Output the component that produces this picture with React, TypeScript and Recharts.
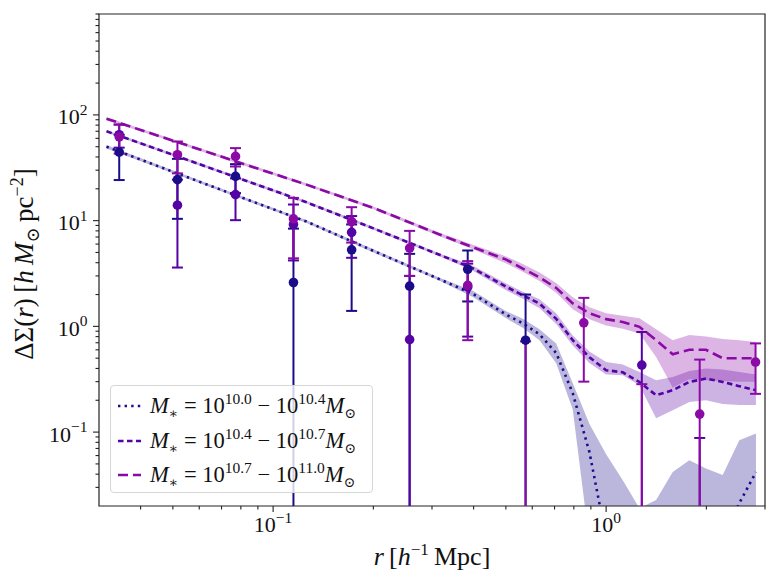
import React from 'react';
import { ComposedChart, XAxis, YAxis, Line, Area, Scatter, ErrorBar, ReferenceArea } from 'recharts';

// ---------- data ----------
const binR = [0.0345, 0.0516, 0.0771, 0.1151, 0.1721, 0.257, 0.384, 0.573, 0.857, 1.28, 1.91, 2.81];

const obs1: (number | null)[] = [44.5, 24.4, 26.2, 2.6, 5.3, 2.4, 3.47, 0.74, null, null, null, null];
const err1: (number | null)[] = [20.3, 14, 8, 5.8, 3.9, 2.45, 1.75, 1.26, null, null, null, null];
const obs2: (number | null)[] = [65, 14, 17.6, 9.2, 7.75, 0.75, 2.36, null, null, 0.43, -0.1, null];
const err2: (number | null)[] = [16, 10.4, 7.5, 5, 3.3, 2.25, 1.56, null, null, 0.455, 0.188, null];
const obs3: (number | null)[] = [62, 42, 40.5, 10.4, 9.8, 5.5, 2.44, -0.3, 1.08, -0.2, 0.148, 0.46];
const err3: (number | null)[] = [19, 14, 8, 6, 3.6, 2.5, 1.7, 1.02, 0.78, 0.484, 0.337, 0.23];

const modelR = [0.0316, 0.0501, 0.0794, 0.126, 0.2, 0.316, 0.398, 0.501, 0.562, 0.631, 0.708, 0.794, 0.891, 1.0, 1.122, 1.259, 1.413, 1.585, 1.778, 1.995, 2.239, 2.512, 2.818];

const mod1 = [50, 28.9, 16.8, 9.8, 5.18, 2.79, 2.03, 1.29, 1.07, 0.84, 0.56, 0.233, 0.0646, 0.01, 0.006, 0.004, 0.004, 0.004, 0.005, 0.006, 0.01, 0.0213, 0.0418];
const lo1 = [48.2, 28, 16.3, 9.5, 5.0, 2.7, 1.9, 1.19, 0.97, 0.74, 0.448, 0.164, 0.009, 0.003, 0.003, 0.003, 0.003, 0.003, 0.003, 0.003, 0.003, 0.003, 0.003];
const hi1 = [51.8, 29.8, 17.3, 10.1, 5.35, 2.88, 2.17, 1.39, 1.18, 0.94, 0.69, 0.29, 0.119, 0.0618, 0.0351, 0.019, 0.0228, 0.042, 0.0542, 0.0453, 0.0392, 0.0838, 0.097];

const mod2 = [70, 41.9, 25, 14.9, 8.45, 4.75, 3.54, 2.37, 1.97, 1.64, 1.18, 0.74, 0.51, 0.385, 0.368, 0.298, 0.223, 0.249, 0.298, 0.321, 0.298, 0.272, 0.249];
const lo2 = [68, 40.7, 24.3, 14.5, 8.2, 4.6, 3.36, 2.19, 1.82, 1.48, 1.05, 0.66, 0.45, 0.35, 0.345, 0.277, 0.135, 0.161, 0.193, 0.2, 0.184, 0.18, 0.18];
const hi2 = [72, 43.1, 25.7, 15.3, 8.7, 4.9, 3.74, 2.54, 2.12, 1.8, 1.33, 0.82, 0.58, 0.46, 0.435, 0.37, 0.31, 0.332, 0.379, 0.40, 0.39, 0.37, 0.35];

const mod3 = [92, 57, 35.3, 21.9, 13.2, 7.4, 5.6, 4.28, 3.52, 2.91, 2.31, 1.65, 1.33, 1.17, 1.10, 0.99, 0.74, 0.545, 0.60, 0.60, 0.50, 0.50, 0.50];
const lo3 = [89, 55.3, 34.2, 21.2, 12.8, 7.1, 5.36, 3.94, 3.28, 2.68, 2.08, 1.45, 1.17, 1.02, 0.95, 0.855, 0.514, 0.264, 0.316, 0.31, 0.305, 0.30, 0.30];
const hi3 = [95, 58.7, 36.4, 22.6, 13.6, 7.7, 5.9, 4.58, 3.88, 3.24, 2.57, 1.88, 1.52, 1.33, 1.26, 1.19, 0.94, 0.74, 0.83, 0.80, 0.76, 0.74, 0.71];

const xTicks = [0.04, 0.05, 0.06, 0.07, 0.08, 0.09, 0.1, 0.2, 0.3, 0.4, 0.5, 0.6, 0.7, 0.8, 0.9, 1, 2, 3];
const yTicks = [0.03, 0.04, 0.05, 0.06, 0.07, 0.08, 0.09, 0.1, 0.2, 0.3, 0.4, 0.5, 0.6, 0.7, 0.8, 0.9, 1, 2, 3, 4, 5, 6, 7, 8, 9, 10, 20, 30, 40, 50, 60, 70, 80, 90, 100, 200, 300, 400, 500, 600, 700, 800, 900];

const legendLabels = [
  ['10.0', '10.4'],
  ['10.4', '10.7'],
  ['10.7', '11.0'],
];

// ---------- style ----------
const C1 = '#1b0c8a';
const C2 = '#5503a4';
const C3 = '#8b0aa5';
const DASH1 = '2.4 4.2';
const DASH2 = '5.5 3.5';
const DASH3 = '10 5';
const FONT = '"Liberation Serif", "DejaVu Serif", serif';
const FLOOR = 1e-4;

function buildModel(r: number[], v: number[], lo: number[], hi: number[]) {
  return r.map((x, i) => ({ x, v: v[i], band: [lo[i], hi[i]] }));
}

function buildPoints(vals: (number | null)[], errs: (number | null)[]) {
  const pts: any[] = [];
  const caps: any[] = [];
  vals.forEach((v, i) => {
    const e = errs[i];
    if (v === null || e === null) return;
    if (v > 0) {
      pts.push({ x: binR[i], y: v, e: [Math.min(e, v - FLOOR), e] });
    } else {
      const up = v + e;
      caps.push({ x: binR[i], y: up, e: [up - FLOOR, 0] });
    }
  });
  return { pts, caps };
}

const m1 = buildModel(modelR, mod1, lo1, hi1);
const m2 = buildModel(modelR, mod2, lo2, hi2);
const m3 = buildModel(modelR, mod3, lo3, hi3);
const p1 = buildPoints(obs1, err1);
const p2 = buildPoints(obs2, err2);
const p3 = buildPoints(obs3, err3);

const isMajor = (v: number) => Math.abs(Math.log10(v) - Math.round(Math.log10(v))) < 1e-6;
const expLabel = (v: number) => {
  const e = Math.round(Math.log10(v));
  return e < 0 ? '\u2212' + -e : String(e);
};

const XTick = (props: any) => {
  const { x, y, payload } = props;
  const v = payload.value;
  const major = isMajor(v);
  return (
    <g>
      <line x1={x} x2={x} y1={y} y2={y + (major ? 6 : 3.5)} stroke="#222" strokeWidth={1.1} />
      {major && (
        <text x={x} y={y + 26} textAnchor="middle" fontFamily={FONT} fontSize={22} fill="#111">
          10<tspan dy={-9} fontSize={15.5}>{expLabel(v)}</tspan>
        </text>
      )}
    </g>
  );
};

const YTick = (props: any) => {
  const { x, y, payload } = props;
  const v = payload.value;
  const major = isMajor(v);
  return (
    <g>
      <line x1={x} x2={x - (major ? 6 : 3.5)} y1={y} y2={y} stroke="#222" strokeWidth={1.1} />
      {major && (
        <text x={x - 11.5} y={y + 9.5} textAnchor="end" fontFamily={FONT} fontSize={22} fill="#111">
          10<tspan dy={-9.5} fontSize={15.5}>{expLabel(v)}</tspan>
        </text>
      )}
    </g>
  );
};

const Dot = (color: string) => (p: any) =>
  Number.isFinite(p.cx) && Number.isFinite(p.cy) ? <circle cx={p.cx} cy={p.cy} r={4.8} fill={color} /> : <g />;
const NoDot = () => <g />;

const errKey = (d: any) => d.e;
const bandKey = (d: any) => d.band;

const LegendRow = ({ color, dash, lo, hi }: any) => (
  <div style={{ display: 'flex', alignItems: 'center', height: 34.5 }}>
    <svg width={26} height={10} style={{ marginLeft: 7, marginRight: 6, flex: 'none' }}>
      <line x1={0} x2={23} y1={5} y2={5} stroke={color} strokeWidth={2.6} strokeDasharray={dash} />
    </svg>
    <span style={{ fontFamily: FONT, fontSize: 22.5, color: '#111', whiteSpace: 'nowrap' }}>
      <i>M</i>
      <sub style={{ fontSize: 14 }}>{'\u2217'}</sub>
      {' = 10'}
      <sup style={{ fontSize: 15.5 }}>{lo}</sup>
      {' \u2212 10'}
      <sup style={{ fontSize: 15.5 }}>{hi}</sup>
      <i>M</i>
      <sub style={{ fontSize: 14 }}>{'\u2299'}</sub>
    </span>
  </div>
);

export default function App() {
  return (
    <div style={{ position: 'absolute', left: 0, top: 0, width: 780, height: 580, background: '#fff' }}>
      <style>{'.recharts-errorBars { clip-path: url(#plotClipRect); }'}</style>
      <svg width={0} height={0} style={{ position: 'absolute', left: 0, top: 0 }}>
        <defs>
          <clipPath id="plotClipRect" clipPathUnits="userSpaceOnUse">
            <rect x={99} y={14} width={666} height={492} />
          </clipPath>
        </defs>
      </svg>
      <ComposedChart width={780} height={580} margin={{ top: 14, right: 15, bottom: 0, left: 0 }}>
        <XAxis
          type="number"
          dataKey="x"
          scale="log"
          domain={[0.03, 3.0]}
          allowDataOverflow
          ticks={xTicks}
          interval={0}
          tick={<XTick />}
          tickLine={false}
          tickSize={0}
          tickMargin={0}
          axisLine={false}
          height={74}
        />
        <YAxis
          type="number"
          scale="log"
          domain={[0.02, 900]}
          allowDataOverflow
          ticks={yTicks}
          interval={0}
          tick={<YTick />}
          tickLine={false}
          tickSize={0}
          tickMargin={0}
          axisLine={false}
          width={99}
        />
        <Area data={m1} dataKey={bandKey} type="linear" stroke="none" fill={C1} fillOpacity={0.3} isAnimationActive={false} dot={false} activeDot={false} />
        <Area data={m2} dataKey={bandKey} type="linear" stroke="none" fill={C2} fillOpacity={0.3} isAnimationActive={false} dot={false} activeDot={false} />
        <Area data={m3} dataKey={bandKey} type="linear" stroke="none" fill={C3} fillOpacity={0.3} isAnimationActive={false} dot={false} activeDot={false} />
        <Line data={m1} dataKey="v" type="linear" stroke={C1} strokeWidth={2.6} strokeDasharray={DASH1} dot={false} activeDot={false} isAnimationActive={false} />
        <Line data={m2} dataKey="v" type="linear" stroke={C2} strokeWidth={2.6} strokeDasharray={DASH2} dot={false} activeDot={false} isAnimationActive={false} />
        <Line data={m3} dataKey="v" type="linear" stroke={C3} strokeWidth={2.6} strokeDasharray={DASH3} dot={false} activeDot={false} isAnimationActive={false} />
        <Scatter data={p1.pts} dataKey="y" shape={Dot(C1)} isAnimationActive={false}>
          <ErrorBar dataKey={errKey} direction="y" stroke={C1} strokeWidth={2} width={5.5} />
        </Scatter>
        <Scatter data={p2.pts} dataKey="y" shape={Dot(C2)} isAnimationActive={false}>
          <ErrorBar dataKey={errKey} direction="y" stroke={C2} strokeWidth={2} width={5.5} />
        </Scatter>
        <Scatter data={p2.caps} dataKey="y" shape={NoDot} isAnimationActive={false}>
          <ErrorBar dataKey={errKey} direction="y" stroke={C2} strokeWidth={2} width={5.5} />
        </Scatter>
        <Scatter data={p3.pts} dataKey="y" shape={Dot(C3)} isAnimationActive={false}>
          <ErrorBar dataKey={errKey} direction="y" stroke={C3} strokeWidth={2} width={5.5} />
        </Scatter>
        <Scatter data={p3.caps} dataKey="y" shape={NoDot} isAnimationActive={false}>
          <ErrorBar dataKey={errKey} direction="y" stroke={C3} strokeWidth={2} width={5.5} />
        </Scatter>
        <ReferenceArea x1={0.03} x2={3.0} y1={0.02} y2={900} fill="none" stroke="#222" strokeWidth={1.2} />
      </ComposedChart>

      {/* legend */}
      <div
        style={{
          position: 'absolute',
          left: 110,
          top: 385,
          width: 263,
          height: 108,
          boxSizing: 'border-box',
          border: '1px solid #d6d6d6',
          borderRadius: 4,
          background: 'rgba(255,255,255,0.8)',
          paddingTop: 3,
        }}
      >
        <LegendRow color={C1} dash={DASH1} lo={legendLabels[0][0]} hi={legendLabels[0][1]} />
        <LegendRow color={C2} dash={DASH2} lo={legendLabels[1][0]} hi={legendLabels[1][1]} />
        <LegendRow color={C3} dash={DASH3} lo={legendLabels[2][0]} hi={legendLabels[2][1]} />
      </div>

      {/* x label */}
      <div
        style={{
          position: 'absolute',
          left: 432,
          top: 535,
          transform: 'translateX(-50%)',
          fontFamily: FONT,
          fontSize: 26,
          lineHeight: '30px',
          whiteSpace: 'nowrap',
          color: '#111',
        }}
      >
        <i>r</i>&#8201;[<i>h</i>
        <sup style={{ fontSize: 17 }}>{'\u22121'}</sup>&#8201;Mpc]
      </div>

      {/* y label */}
      <div
        style={{
          position: 'absolute',
          left: 25,
          top: 264,
          transform: 'translate(-50%, -50%) rotate(-90deg)',
          fontFamily: FONT,
          fontSize: 27,
          lineHeight: '30px',
          whiteSpace: 'nowrap',
          color: '#111',
        }}
      >
        ΔΣ(<i>r</i>)&#8201;[<i>h</i>&#8201;<i>M</i>
        <sub style={{ fontSize: 18 }}>{'\u2299'}</sub>&#8201;pc
        <sup style={{ fontSize: 18 }}>{'\u22122'}</sup>]
      </div>
    </div>
  );
}
